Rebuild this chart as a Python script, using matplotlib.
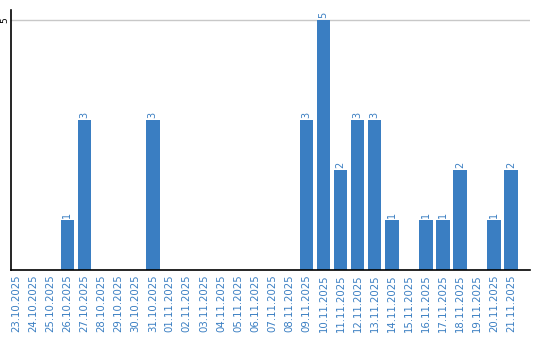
import matplotlib
matplotlib.use("Agg")
import matplotlib.pyplot as plt
import numpy as np

# daily counts, 23.10.2025 - 21.11.2025
dates = ["23.10.2025", "24.10.2025", "25.10.2025", "26.10.2025", "27.10.2025",
         "28.10.2025", "29.10.2025", "30.10.2025", "31.10.2025", "01.11.2025",
         "02.11.2025", "03.11.2025", "04.11.2025", "05.11.2025", "06.11.2025",
         "07.11.2025", "08.11.2025", "09.11.2025", "10.11.2025", "11.11.2025",
         "12.11.2025", "13.11.2025", "14.11.2025", "15.11.2025", "16.11.2025",
         "17.11.2025", "18.11.2025", "19.11.2025", "20.11.2025", "21.11.2025"]
counts = [0, 0, 0, 1, 3, 0, 0, 0, 3, 0,
          0, 0, 0, 0, 0, 0, 0, 3, 5, 2,
          3, 3, 1, 0, 1, 1, 2, 0, 1, 2]

blue = '#3a7ec2'

fig = plt.figure(figsize=(5.4, 3.4), dpi=100)
ax = fig.add_axes([0.0204, 0.206, 0.9610, 0.765])

x = np.arange(len(dates))
bars = ax.bar(x, counts, width=0.8, color=blue, zorder=2)

# value labels above non-empty bars
for xi, v in zip(x, counts):
    if v > 0:
        ax.text(xi, v + 0.03, str(v), rotation=90, ha='center', va='bottom',
                color=blue, fontsize=7)

ax.set_xlim(-0.3, 30.1)
ax.set_ylim(0, 5.2)
ax.set_xticks(x)
ax.set_xticklabels(dates, rotation=90, color=blue, fontsize=7.3)
ax.set_yticks([5])
ax.set_yticklabels(['5'], rotation=90, va='center', fontsize=6.5)
ax.tick_params(axis='x', length=0, pad=3)
ax.tick_params(axis='y', length=0, pad=1)
ax.axhline(5, color='#c8c8c8', linewidth=1, zorder=1)

ax.spines['top'].set_visible(False)
ax.spines['right'].set_visible(False)
ax.spines['left'].set_linewidth(1.2)
ax.spines['bottom'].set_linewidth(1.2)

fig.savefig('out.png', dpi=100)
